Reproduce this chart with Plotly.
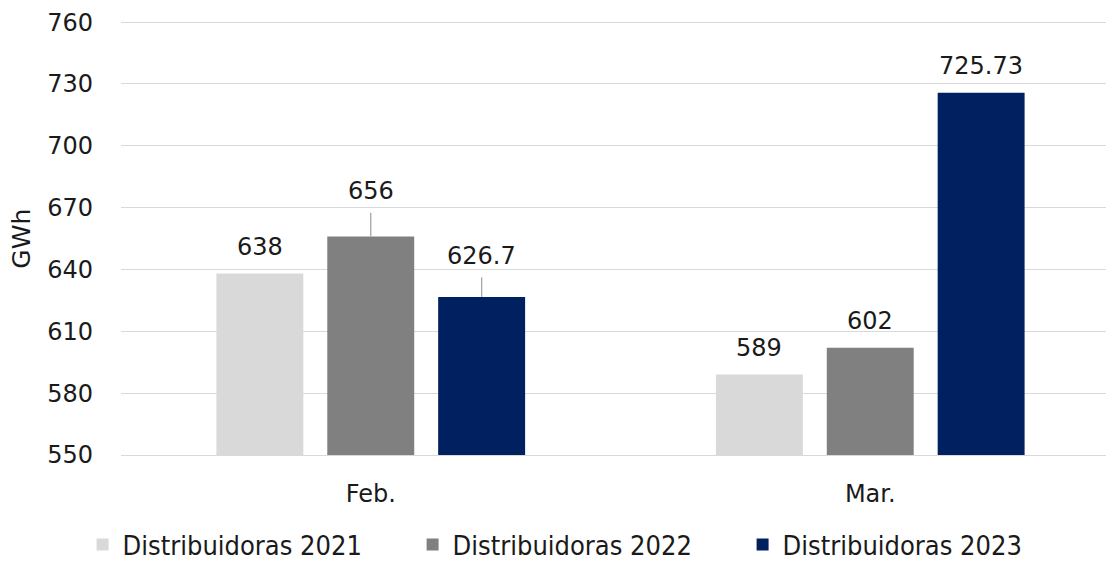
import plotly.graph_objects as go

categories = ["Feb.", "Mar."]
series_names = ["Distribuidoras 2021", "Distribuidoras 2022", "Distribuidoras 2023"]
values_2021 = [638, 589]
values_2022 = [656, 602]
values_2023 = [626.7, 725.73]
label_texts = [["638", "589"], ["656", "602"], ["626.7", "725.73"]]
colors = ["#d9d9d9", "#808080", "#002060"]
y_ticks = [550, 580, 610, 640, 670, 700, 730, 760]

# label gap above bar (data units); leader lines drawn where gap is large
label_gap = [[13, 13], [22, 13], [20, 13]]

series_values = [values_2021, values_2022, values_2023]
FONT = "DejaVu Sans"
LEG_FONT = "DejaVu Sans Condensed"
TXT = "#1a1a1a"
bargap = 0.334
slot = (1 - bargap) / 3

# the page body has an 8px margin, so the figure is 8px smaller than the window
W, H = 1106, 553

fig = go.Figure()
for name, vals, col in zip(series_names, series_values, colors):
    fig.add_trace(go.Bar(x=categories, y=vals, name=name, marker_color=col,
                         marker_line_width=0))

annotations = []
shapes = []
for s, vals in enumerate(series_values):
    for c, v in enumerate(vals):
        xpos = c + (s - 1) * slot
        gap = label_gap[s][c]
        ylab = v + gap
        annotations.append(dict(x=xpos, y=ylab, xref="x", yref="y", text=label_texts[s][c],
                                showarrow=False, yanchor="middle",
                                font=dict(family=FONT, size=24, color=TXT)))
        if gap > 15:
            shapes.append(dict(type="line", xref="x", yref="y", x0=xpos, x1=xpos,
                               y0=v, y1=ylab - 10.5,
                               line=dict(color="#a6a6a6", width=1.3)))

plot_w = W - 113
annotations.append(dict(x=(14 - 113) / plot_w, y=0.495, xref="paper", yref="paper", text="GWh",
                        textangle=-90, showarrow=False, xanchor="center", yanchor="middle",
                        font=dict(family=FONT, size=25, color=TXT)))

fig.update_layout(
    width=W, height=H,
    margin=dict(l=113, r=0, t=10, b=106, autoexpand=False),
    paper_bgcolor="white", plot_bgcolor="white",
    barmode="group", bargap=bargap, bargroupgap=0.216,
    font=dict(family=FONT, size=24, color=TXT),
    annotations=annotations, shapes=shapes,
    legend=dict(orientation="h", xref="container", x=0.515, xanchor="center",
                yref="paper", y=-0.206, yanchor="middle",
                font=dict(family=LEG_FONT, size=27, color=TXT),
                itemwidth=30, entrywidth=285, entrywidthmode="pixels",
                traceorder="normal", itemclick=False),
    showlegend=True,
)
fig.update_xaxes(range=[-0.5, 1.488], showgrid=False, showline=True, linecolor="#d9d9d9",
                 linewidth=1.3, ticks="", ticklabelstandoff=17, automargin=False,
                 tickfont=dict(family=FONT, size=24, color=TXT))
fig.update_yaxes(range=[550, 762], tickvals=y_ticks, showgrid=True, gridcolor="#d9d9d9",
                 gridwidth=1.3, zeroline=False, showline=False, ticks="",
                 ticklabelstandoff=27, automargin=False,
                 tickfont=dict(family=FONT, size=24, color=TXT))

fig.write_html("out.html")
